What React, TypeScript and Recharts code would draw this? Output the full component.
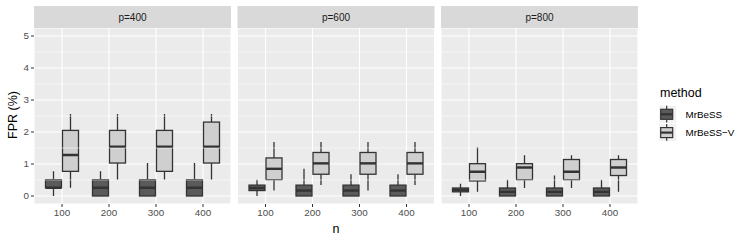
import { ComposedChart, Bar, XAxis, YAxis, CartesianGrid, Legend, ReferenceLine } from 'recharts';

const nLabels = ['100', '200', '300', '400'];
const panelLabels = ['p=400', 'p=600', 'p=800'];
const methods = ['MrBeSS', 'MrBeSS\u2212V'];
const yTicks = [0, 1, 2, 3, 4, 5];
const yMinor = [0.5, 1.5, 2.5, 3.5, 4.5];

// each entry: [min, q1, median, q3, max] per n
const p400MrBeSS = [[0, 0.26, 0.26, 0.51, 0.77], [0, 0, 0.26, 0.51, 0.77], [0, 0, 0.26, 0.51, 1.03], [0, 0, 0.26, 0.51, 1.03]];
const p400MrBeSSV = [[0.26, 0.77, 1.28, 2.05, 2.56], [0.51, 1.03, 1.54, 2.05, 2.56], [0.51, 0.77, 1.54, 2.05, 2.56], [0.51, 1.03, 1.54, 2.31, 2.56]];
const p600MrBeSS = [[0, 0.17, 0.25, 0.34, 0.51], [0, 0, 0.17, 0.34, 0.85], [0, 0, 0.17, 0.34, 0.68], [0, 0, 0.17, 0.34, 0.68]];
const p600MrBeSSV = [[0.17, 0.51, 0.85, 1.19, 1.69], [0.34, 0.68, 1.02, 1.36, 1.69], [0.17, 0.68, 1.02, 1.36, 1.69], [0.34, 0.68, 1.02, 1.36, 1.69]];
const p800MrBeSS = [[0, 0.13, 0.19, 0.25, 0.38], [0, 0, 0.13, 0.25, 0.51], [0, 0, 0.13, 0.25, 0.64], [0, 0, 0.13, 0.25, 0.51]];
const p800MrBeSSV = [[0.13, 0.47, 0.76, 1.01, 1.52], [0.25, 0.51, 0.89, 1.01, 1.27], [0.25, 0.51, 0.76, 1.14, 1.27], [0.13, 0.64, 0.89, 1.14, 1.27]];

const panelStats = [
  [p400MrBeSS, p400MrBeSSV],
  [p600MrBeSS, p600MrBeSSV],
  [p800MrBeSS, p800MrBeSSV],
];

const W = 747;
const H = 242;
const PANEL_W = 197;
const panelX = [34, 237.5, 441];
const PLOT_TOP = 28;
const PLOT_BOTTOM = 204;
const FONT = '"Liberation Sans", Arial, sans-serif';
const fills = ['#5a5a5a', '#cfcfcf'];
const LINE = '#333333';
const TICK_FONT = 9.8;

const buildRows = (stats: number[][][]) =>
  nLabels.map((n, i) => ({
    n,
    mr: [stats[0][i][1], stats[0][i][3]],
    mrStats: stats[0][i],
    v: [stats[1][i][1], stats[1][i][3]],
    vStats: stats[1][i],
  }));

const makeBox = (statsKey: string, fill: string) => (props: any) => {
  const { x, y, width, height, payload } = props;
  const [mn, q1, med, q3, mx] = payload[statsKey];
  const top = Math.min(y, y + height);
  const h = Math.abs(height);
  // pixel position from the bar's own scaled rectangle (q1..q3)
  const k = h / (q3 - q1);
  const py = (v: number) => top + (q3 - v) * k;
  const cx = x + width / 2;
  return (
    <g>
      <line x1={cx} x2={cx} y1={py(mx)} y2={py(q3)} stroke={LINE} strokeWidth={1.3} />
      <line x1={cx} x2={cx} y1={py(q1)} y2={py(mn)} stroke={LINE} strokeWidth={1.3} />
      <rect x={x} y={top} width={width} height={h} fill={fill} stroke={LINE} strokeWidth={1.3} />
      <line x1={x} x2={x + width} y1={py(med)} y2={py(med)} stroke={LINE} strokeWidth={2.4} />
    </g>
  );
};

// legend drawn in its own small svg, positioned by the Legend wrapper
const LegendContent = () => (
  <svg width={90} height={64} style={{ display: 'block', fontFamily: FONT }}>
    <text x={1} y={13} dominantBaseline="central" fontSize={12.5} fill="#000">
      method
    </text>
    {methods.map((m, i) => {
      const ky = 25.5 + i * 18.3;
      return (
        <g key={m}>
          <rect x={0} y={ky} width={17.3} height={17.3} fill="#F2F2F2" />
          <line x1={7.7} x2={7.7} y1={ky + 0.3} y2={ky + 17} stroke={LINE} strokeWidth={1.2} />
          <rect x={1.7} y={ky + 3.8} width={12} height={10} fill={fills[i]} stroke={LINE} strokeWidth={1.2} />
          <line x1={1.7} x2={13.7} y1={ky + 8.8} y2={ky + 8.8} stroke={LINE} strokeWidth={2.2} />
          <text x={26.5} y={ky + 8.8} dominantBaseline="central" fontSize={TICK_FONT} fill="#000">
            {m}
          </text>
        </g>
      );
    })}
  </svg>
);

const Panel = ({ idx }: { idx: number }) => {
  const px = panelX[idx];
  const rows = buildRows(panelStats[idx]);
  return (
    <div style={{ position: 'absolute', left: 0, top: 0 }}>
      <ComposedChart
        width={W}
        height={H}
        data={rows}
        margin={{ top: PLOT_TOP, right: W - px - PANEL_W, bottom: H - PLOT_BOTTOM - 20, left: idx === 0 ? px - 26 : px }}
        barSize={16}
        barGap={1}
      >
        <CartesianGrid fill="#EBEBEB" stroke="#FFFFFF" strokeWidth={1.1} />
        {yMinor.map((v) => (
          <ReferenceLine key={v} y={v} stroke="#FFFFFF" strokeWidth={0.55} />
        ))}
        <XAxis
          dataKey="n"
          height={20}
          padding={{ left: 4.5, right: 4.5 }}
          axisLine={false}
          tickSize={3}
          tickLine={{ stroke: LINE, strokeWidth: 1 }}
          tick={{ fill: '#4D4D4D', fontSize: TICK_FONT, fontFamily: FONT }}
        />
        <YAxis
          type="number"
          domain={[-0.25, 5.25]}
          ticks={yTicks}
          allowDataOverflow
          width={26}
          hide={idx > 0}
          axisLine={false}
          tickSize={3}
          tickLine={{ stroke: LINE, strokeWidth: 1 }}
          tick={{ fill: '#4D4D4D', fontSize: TICK_FONT, fontFamily: FONT }}
        />
        <Bar dataKey="mr" name={methods[0]} fill={fills[0]} shape={makeBox('mrStats', fills[0])} isAnimationActive={false} />
        <Bar dataKey="v" name={methods[1]} fill={fills[1]} shape={makeBox('vStats', fills[1])} isAnimationActive={false} />
        {idx === 2 && (
          <Legend
            layout="horizontal"
            align="center"
            verticalAlign="middle"
            content={<LegendContent />}
            wrapperStyle={{ left: 659, top: 80, width: 90, height: 64 }}
          />
        )}
      </ComposedChart>
    </div>
  );
};

export default function App() {
  return (
    <div style={{ position: 'absolute', left: 0, top: 0, width: W, height: H, background: '#fff', fontFamily: FONT }}>
      {[0, 1, 2].map((i) => (
        <Panel key={i} idx={i} />
      ))}
      <svg width={W} height={H} style={{ position: 'absolute', left: 0, top: 0, pointerEvents: 'none' }}>
        {panelLabels.map((label, i) => (
          <g key={label}>
            <rect x={panelX[i]} y={6} width={PANEL_W} height={22} fill="#D9D9D9" />
            <text x={panelX[i] + PANEL_W / 2} y={17} textAnchor="middle" dominantBaseline="central" fontSize={10} fill="#1A1A1A" fontFamily={FONT}>
              {label}
            </text>
          </g>
        ))}
        <text x={336} y={229} textAnchor="middle" dominantBaseline="central" fontSize={12.5} fill="#000" fontFamily={FONT}>
          n
        </text>
        <text x={12.5} y={115} textAnchor="middle" dominantBaseline="central" fontSize={12.5} fill="#000" fontFamily={FONT} transform="rotate(-90 12.5 115)">
          FPR (%)
        </text>
      </svg>
    </div>
  );
}
